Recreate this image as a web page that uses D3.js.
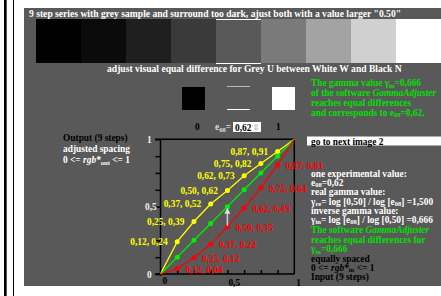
<!DOCTYPE html>
<html>
<head>
<meta charset="utf-8">
<script src="https://cdn.jsdelivr.net/npm/d3@7"></script>
<style>
  body { margin: 0; background: #fff; }
  svg { display: block; font-family: "Liberation Serif", "DejaVu Serif", serif; font-weight: bold; }
</style>
</head>
<body>
<svg id="chart" width="441" height="296"></svg>
<script>
// 9 step grey strip (output grey levels)
var stripGreys = ["#000000", "#0b0b0b", "#1f1f1f", "#3a3a3a", "#595959", "#7a7a7a", "#a3a3a3", "#d0d0d0", "#ffffff"];

// input steps 0..1
var steps = [0, 0.125, 0.25, 0.375, 0.5, 0.625, 0.75, 0.875, 1];
// adjusted output (yellow), equal spacing (green), measured (red)
var yellowY = [0, 0.24, 0.39, 0.52, 0.62, 0.73, 0.82, 0.91, 1];
var greenY = [0, 0.125, 0.25, 0.375, 0.5, 0.625, 0.75, 0.875, 1];
var redY = [0, 0.04, 0.12, 0.22, 0.35, 0.49, 0.64, 0.81, 1];
var yellowLabels = ["", "0,12, 0,24", "0,25, 0,39", "0,37, 0,52", "0,50, 0,62", "0,62, 0,73", "0,75, 0,82", "0,87, 0,91", ""];
var redLabels = ["", "0,12, 0,04", "0,25, 0,12", "0,37, 0,22", "0,50, 0,35", "0,62, 0,49", "0,75, 0,64", "0,87, 0,81", ""];
var tickVals = [0, 0.125, 0.25, 0.375, 0.5, 0.625, 0.75, 0.875, 1];

var FS = 9.4;
var svg = d3.select("#chart");

// left border lines
svg.append("rect").attr("x", 4).attr("y", 0).attr("width", 2).attr("height", 296).attr("fill", "#000");
svg.append("rect").attr("x", 6).attr("y", 0).attr("width", 1).attr("height", 296).attr("fill", "#555");
svg.append("rect").attr("x", 13).attr("y", 0).attr("width", 1).attr("height", 296).attr("fill", "#000");

// grey panel
svg.append("rect").attr("x", 24).attr("y", 8).attr("width", 417).attr("height", 278).attr("fill", "#595959");

// rich text helper: segs = [[text, flags]] flags: i italic, s subscript
function rich(x, y, segs, fill, size) {
    size = size || FS;
    var t = svg.append("text").attr("x", x).attr("y", y).attr("fill", fill).style("font-size", size + "px");
    var shifted = false;
    segs.forEach(function(s) {
        var flags = s[1] || "";
        var sp = t.append("tspan").text(s[0]);
        if (flags.indexOf("i") >= 0) sp.style("font-style", "italic");
        if (flags.indexOf("s") >= 0) {
            sp.style("font-size", (size * 0.7) + "px");
            if (!shifted) { sp.attr("dy", 1.5); shifted = true; }
        } else if (shifted) {
            sp.attr("dy", -1.5); shifted = false;
        }
    });
    return t;
}

// title
rich(29, 17, [["9 step series with grey sample and surround too dark, ajust both with a value larger \"0.50\""]], "#fff", 9.6);

// strips
var sx = d3.scaleBand().domain(d3.range(stripGreys.length)).range([36, 441]);
svg.append("g").selectAll("rect").data(stripGreys).join("rect")
    .attr("x", (d, i) => sx(i)).attr("y", 19)
    .attr("width", sx.bandwidth() + 0.5).attr("height", 44)
    .attr("fill", d => d);
svg.append("line").attr("x1", sx(4)).attr("x2", sx(4) + sx.bandwidth()).attr("y1", 19.5).attr("y2", 19.5).attr("stroke", "#fff");
svg.append("line").attr("x1", sx(4)).attr("x2", sx(4) + sx.bandwidth()).attr("y1", 63.5).attr("y2", 63.5).attr("stroke", "#fff");

rich(107, 72, [["adjust visual equal difference for Grey U between White W and Black N"]], "#fff", 9.6);

// sample squares
svg.append("rect").attr("x", 182).attr("y", 87).attr("width", 23).attr("height", 23).attr("fill", "#000");
svg.append("rect").attr("x", 272).attr("y", 87).attr("width", 23).attr("height", 23).attr("fill", "#fff");
svg.append("line").attr("x1", 227).attr("x2", 250).attr("y1", 86.5).attr("y2", 86.5).attr("stroke", "#bbb");
svg.append("line").attr("x1", 227).attr("x2", 250).attr("y1", 109.5).attr("y2", 109.5).attr("stroke", "#fff");

rich(195, 130, [["0"]], "#000");
rich(276, 130, [["1"]], "#000");
rich(215, 130, [["e"], ["08", "s"], ["="]], "#ddd");
svg.append("rect").attr("x", 233).attr("y", 122).attr("width", 28).attr("height", 10).attr("fill", "#fff");
rich(235, 130.5, [["0,62"]], "#000");
svg.append("text").attr("x", 256).attr("y", 130).attr("text-anchor", "middle").attr("fill", "#888")
    .style("font-size", "8px").style("font-family", "DejaVu Sans").style("font-weight", "normal").text("⇳");

// green text top right
var g1 = 311;
rich(g1, 86, [["The gamma value "], ["γ", ""], ["in", "s"], ["=0,666"]], "#00e000");
rich(g1, 96, [["of the software "], ["GammaAdjuster", "i"]], "#00e000");
rich(g1, 106, [["reaches equal differences"]], "#00e000");
rich(g1, 115.5, [["and corresponds to e"], ["08", "s"], ["=0,62."]], "#00e000");

// plot
var x = d3.scaleLinear().domain([0, 1]).range([160.5, 294.3]);
var y = d3.scaleLinear().domain([0, 1]).range([274, 139.3]);

var plot = svg.append("g");
plot.append("line").attr("x1", 155).attr("x2", x(1)).attr("y1", y(1)).attr("y2", y(1)).attr("stroke", "#000").attr("stroke-width", 1.5);
plot.append("line").attr("x1", x(1)).attr("x2", x(1)).attr("y1", y(1)).attr("y2", y(0)).attr("stroke", "#000").attr("stroke-width", 1.5);
plot.append("line").attr("x1", 155).attr("x2", x(1)).attr("y1", y(0)).attr("y2", y(0)).attr("stroke", "#000").attr("stroke-width", 1.5);
plot.append("line").attr("x1", x(0)).attr("x2", x(0)).attr("y1", y(1)).attr("y2", y(0) + 2).attr("stroke", "#000").attr("stroke-width", 1.5);

var yAxis = plot.append("g").attr("transform", `translate(${x(0)},0)`)
    .call(d3.axisLeft(y).tickValues(tickVals).tickSize(5).tickSizeOuter(0).tickFormat(""));
yAxis.select(".domain").remove();
yAxis.selectAll("line").attr("stroke", "#000").attr("stroke-width", 1.5);

var xAxis = plot.append("g").attr("transform", `translate(0,${y(0)})`)
    .call(d3.axisTop(x).tickValues(tickVals.slice(1, -1)).tickSize(4).tickSizeOuter(0).tickFormat(""));
xAxis.select(".domain").remove();
xAxis.selectAll("line").attr("stroke", "#000").attr("stroke-width", 1.5);

// axis labels
rich(147, y(1) + 3.5, [["1"]], "#eee");
rich(145, y(0.5) + 3.5, [["0,5"]], "#eee");
rich(147, y(0) + 3.5, [["0"]], "#eee");
rich(x(0) + 2, 284, [["0"]], "#000");
rich(x(0.5) + 1, 286, [["0,5"]], "#000");
rich(x(1) + 2, 286, [["1"]], "#000");

var line = d3.line().x(d => x(d[0])).y(d => y(d[1]));
var series = [
    { ys: yellowY, color: "#ffff00" },
    { ys: greenY, color: "#00ee00" },
    { ys: redY, color: "#ff0000" }
];
series.forEach(function(s) {
    var pts = steps.map((v, i) => [v, s.ys[i]]);
    plot.append("path").datum(pts).attr("d", line).attr("fill", "none")
        .attr("stroke", s.color).attr("stroke-width", 1.3);
    plot.append("g").selectAll("circle").data(pts.slice(1, -1)).join("circle")
        .attr("cx", d => x(d[0])).attr("cy", d => y(d[1])).attr("r", 2.5)
        .attr("fill", s.color);
});

// labels
plot.append("g").selectAll("text").data(steps).join("text")
    .attr("x", d => x(d) - 47).attr("y", (d, i) => y(yellowY[i]) + 3.5)
    .attr("fill", "#ffff00").style("font-size", FS + "px")
    .text((d, i) => yellowLabels[i]);
plot.append("g").selectAll("text").data(steps).join("text")
    .attr("x", d => x(d) + 8).attr("y", (d, i) => y(redY[i]) + 4)
    .attr("fill", "#ff0000").style("font-size", FS + "px")
    .text((d, i) => redLabels[i]);

// arrow from measured to target at 0.5
var ax = x(0.5);
plot.append("line").attr("x1", ax).attr("x2", ax).attr("y1", y(redY[4]) - 1).attr("y2", y(0.5) + 3)
    .attr("stroke", "#ccc").attr("stroke-width", 1.5);
plot.append("path").attr("d", `M${ax},${y(0.5) + 1}l-3,6h6z`).attr("fill", "#ddd");

// left captions
rich(63, 141, [["Output (9 steps)"]], "#000");
rich(63, 152, [["adjusted spacing"]], "#fff");
rich(63, 163, [["0 <= "], ["rgb*", "i"], ["out", "s"], [" <= 1"]], "#fff");

// right panel
svg.append("rect").attr("x", 307).attr("y", 136.5).attr("width", 134).attr("height", 9).attr("fill", "#fff");
rich(311, 144.5, [["go to next image 2"]], "#000");

var rx = 311;
rich(rx, 176.5, [["one experimental value:"]], "#fff");
rich(rx, 185.5, [["e"], ["08", "s"], ["=0,62"]], "#fff");
rich(rx, 195, [["real gamma value:"]], "#fff");
rich(rx, 204.5, [["γ"], ["re", "s"], ["= log [0,50] / log [e"], ["08", "s"], ["] =1,500"]], "#fff");
rich(rx, 213.5, [["inverse gamma value:"]], "#fff");
rich(rx, 222.5, [["γ"], ["in", "s"], ["= log [e"], ["08", "s"], ["] / log [0,50] =0,666"]], "#fff");
rich(rx, 233, [["The software "], ["GammaAdjuster", "i"]], "#00e000");
rich(rx, 242.5, [["reaches equal differences for"]], "#00e000");
rich(rx, 252, [["γ"], ["in", "s"], ["=0,666"]], "#00e000");
rich(rx, 261.5, [["equally spaced"]], "#000");
rich(rx, 270.5, [["0 <= "], ["rgb*", "i"], ["in", "s"], [" <= 1"]], "#000");
rich(rx, 280, [["Input (9 steps)"]], "#000");
</script>
</body>
</html>
